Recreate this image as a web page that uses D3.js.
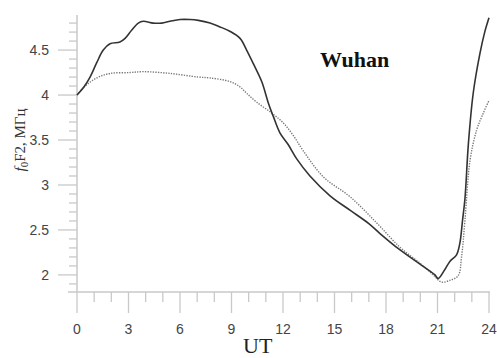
<!DOCTYPE html>
<html>
<head>
<meta charset="utf-8">
<script src="https://cdn.jsdelivr.net/npm/d3@7"></script>
<style>
  body { margin: 0; background: #fff; }
  svg { display: block; }
</style>
</head>
<body>
<div id="chart"></div>
<script>
// f0F2 over Wuhan, two curves (solid / dotted)
const solidHours = [0, 0.4, 0.76, 1.15, 1.53, 1.92, 2.5, 2.8, 3.18, 3.57, 3.86, 4.44, 4.93, 5.42, 6.0, 6.58, 7.07, 7.75, 8.3, 8.9, 9.5, 9.88, 10.27, 10.76, 11.15, 11.44, 11.82, 12.3, 12.8, 13.57, 14.74, 15.9, 17.0, 17.65, 18.8, 19.98, 20.5, 20.85, 21.04, 21.43, 21.72, 22.1, 22.3, 22.46, 22.6, 22.8, 23.08, 23.47, 23.75, 24];
const solidValues = [4.0, 4.09, 4.2, 4.36, 4.5, 4.57, 4.59, 4.63, 4.72, 4.8, 4.82, 4.8, 4.8, 4.82, 4.84, 4.84, 4.83, 4.8, 4.76, 4.71, 4.63, 4.5, 4.35, 4.15, 3.91, 3.76, 3.58, 3.45, 3.29, 3.1, 2.88, 2.72, 2.57, 2.46, 2.28, 2.12, 2.05, 2.0, 1.96, 2.06, 2.15, 2.22, 2.35, 2.61, 2.85, 3.46, 4.02, 4.46, 4.7, 4.86];

const dottedHours = [0, 0.47, 1.15, 1.92, 3.09, 3.86, 5.42, 7.07, 7.75, 8.9, 9.5, 9.88, 10.47, 11.34, 12.02, 12.6, 13.18, 14.35, 15.9, 17.45, 18.8, 19.98, 20.75, 21.24, 21.72, 22.2, 22.4, 22.6, 22.9, 23.28, 23.67, 24];
const dottedValues = [4.0, 4.1, 4.19, 4.24, 4.25, 4.26, 4.24, 4.2, 4.19, 4.15, 4.09, 4.02, 3.92, 3.8, 3.69, 3.55, 3.38, 3.09, 2.87, 2.58, 2.31, 2.13, 2.0, 1.92, 1.94, 1.99, 2.2, 2.61, 3.28, 3.61, 3.8, 3.94];

const xTicks = [0, 3, 6, 9, 12, 15, 18, 21, 24];
const yTicks = [2, 2.5, 3, 3.5, 4, 4.5];
const stationName = "Wuhan";

const W = 497, H = 358;
const axisColor = "#c9c9c9";

const svg = d3.select("#chart").append("svg")
  .attr("width", W)
  .attr("height", H);

const x = d3.scaleLinear().domain([0, 24]).range([77, 489]);
const y = d3.scaleLinear().domain([1.81, 4.89]).range([292, 15]);

// minor ticks (every hour / every 0.1)
const xMinor = d3.range(0, 25).filter(d => d % 3 !== 0);
const yMinor = d3.range(19, 49).map(d => d / 10).filter(d => Math.round(d * 10) % 5 !== 0);

const gx = svg.append("g");
gx.append("line")
  .attr("x1", 68).attr("x2", 490)
  .attr("y1", y.range()[0]).attr("y2", y.range()[0])
  .attr("stroke", axisColor).attr("stroke-width", 1.5);
gx.selectAll(".minor").data(xMinor).enter().append("line")
  .attr("x1", d => x(d)).attr("x2", d => x(d))
  .attr("y1", 292).attr("y2", 302)
  .attr("stroke", axisColor).attr("stroke-width", 1.3);
gx.selectAll(".major").data(xTicks).enter().append("line")
  .attr("x1", d => x(d)).attr("x2", d => x(d))
  .attr("y1", 292).attr("y2", 313)
  .attr("stroke", axisColor).attr("stroke-width", 1.3);
gx.selectAll("text").data(xTicks).enter().append("text")
  .attr("x", d => x(d))
  .attr("y", 334)
  .attr("text-anchor", "middle")
  .attr("font-family", "Liberation Sans, Arial, sans-serif")
  .attr("font-size", 14)
  .attr("fill", "#444")
  .text(d => d);

const gy = svg.append("g");
gy.append("line")
  .attr("x1", 77).attr("x2", 77)
  .attr("y1", 15).attr("y2", 292)
  .attr("stroke", axisColor).attr("stroke-width", 1.5);
gy.selectAll(".minor").data(yMinor).enter().append("line")
  .attr("x1", 69).attr("x2", 77)
  .attr("y1", d => y(d)).attr("y2", d => y(d))
  .attr("stroke", axisColor).attr("stroke-width", 1.3);
gy.selectAll(".major").data(yTicks).enter().append("line")
  .attr("x1", 58).attr("x2", 77)
  .attr("y1", d => y(d)).attr("y2", d => y(d))
  .attr("stroke", axisColor).attr("stroke-width", 1.3);
gy.selectAll("text").data(yTicks).enter().append("text")
  .attr("x", 49)
  .attr("y", d => y(d))
  .attr("dy", "0.35em")
  .attr("text-anchor", "end")
  .attr("font-family", "Liberation Sans, Arial, sans-serif")
  .attr("font-size", 14)
  .attr("fill", "#444")
  .text(d => d);

// curves
const line = d3.line()
  .x(d => x(d[0]))
  .y(d => y(d[1]))
  .curve(d3.curveCatmullRom.alpha(0.5));

svg.append("path")
  .datum(dottedHours.map((h, i) => [h, dottedValues[i]]))
  .attr("d", line)
  .attr("fill", "none")
  .attr("stroke", "#777")
  .attr("stroke-width", 1.4)
  .attr("stroke-dasharray", "1.3,1.3");

svg.append("path")
  .datum(solidHours.map((h, i) => [h, solidValues[i]]))
  .attr("d", line)
  .attr("fill", "none")
  .attr("stroke", "#333")
  .attr("stroke-width", 1.6);

// labels
svg.append("text")
  .attr("x", 320)
  .attr("y", 67)
  .attr("font-family", "Liberation Serif, Times New Roman, serif")
  .attr("font-weight", "bold")
  .attr("font-size", 22)
  .attr("fill", "#111")
  .text(stationName);

svg.append("text")
  .attr("x", 243)
  .attr("y", 353)
  .attr("font-family", "Liberation Serif, Times New Roman, serif")
  .attr("font-size", 22)
  .attr("fill", "#222")
  .text("UT");

const yl = svg.append("text")
  .attr("transform", "translate(25,140) rotate(-90)")
  .attr("text-anchor", "middle")
  .attr("font-family", "Liberation Serif, Times New Roman, serif")
  .attr("font-size", 15)
  .attr("fill", "#333");
yl.append("tspan").attr("font-style", "italic").text("f");
yl.append("tspan").attr("font-size", 11).attr("dy", 3).text("0");
yl.append("tspan").attr("dy", -3).text("F2, МГц");
</script>
</body>
</html>
